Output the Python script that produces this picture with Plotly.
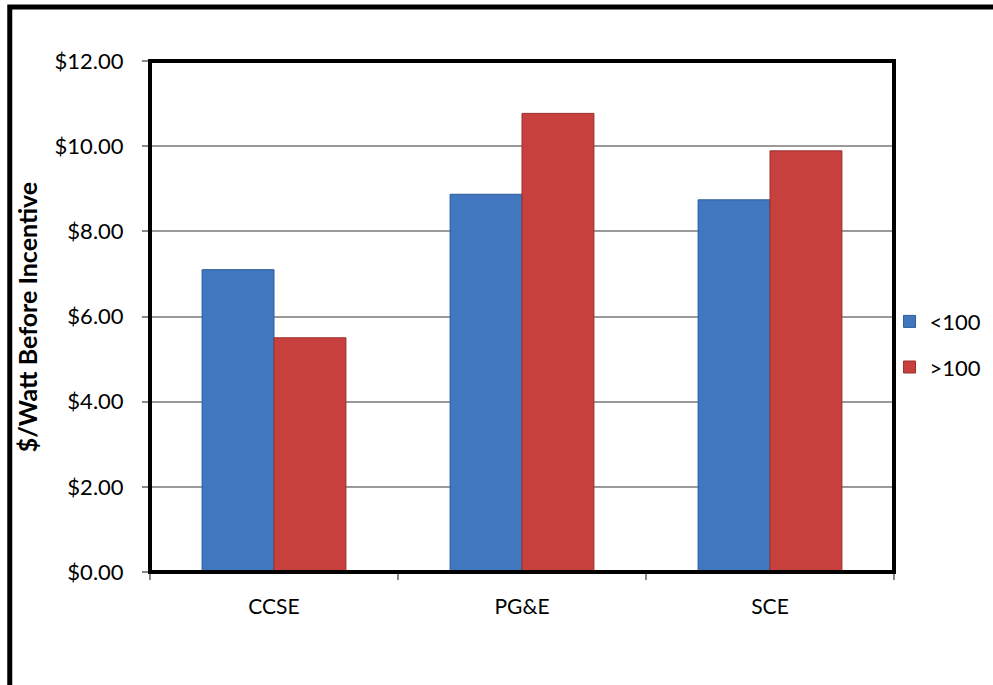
import plotly.graph_objects as go

categories = ["CCSE", "PG&E", "SCE"]
series_names = ["<100", ">100"]
values_lt100 = [7.10, 8.87, 8.74]
values_gt100 = [5.50, 10.77, 9.89]
ytick_vals = [0, 2, 4, 6, 8, 10, 12]
ytick_text = ["$0.00", "$2.00", "$4.00", "$6.00", "$8.00", "$10.00", "$12.00"]
y_title = "$/Watt Before Incentive"

FONT = "Lato, Open Sans, sans-serif"

fig = go.Figure()
fig.add_trace(go.Bar(x=categories, y=values_lt100, name=series_names[0], legendgroup="a",
                     marker=dict(color="#4077BF", line=dict(color="#2E5C9A", width=1))))
fig.add_trace(go.Bar(x=categories, y=values_gt100, name=series_names[1], legendgroup="b",
                     marker=dict(color="#C8403D", line=dict(color="#9A2E2C", width=1))))

fig.update_layout(
    width=993, height=685,
    margin=dict(l=150, r=99, t=61, b=113, autoexpand=False),
    paper_bgcolor="white", plot_bgcolor="white",
    barmode="group", bargap=0.42, bargroupgap=0,
    font=dict(family=FONT, color="black", size=21),
    legend=dict(x=0.994, y=0.445, xanchor="left", yanchor="middle",
                font=dict(size=22, family=FONT), tracegroupgap=14,
                traceorder="grouped",
                itemwidth=30, bgcolor="rgba(0,0,0,0)"),
    xaxis=dict(showgrid=False, ticks="outside", tickson="boundaries",
               ticklen=7, tickcolor="#888", tickwidth=1.5,
               tickfont=dict(size=21, family=FONT), ticklabelstandoff=20,
               showline=False),
    yaxis=dict(range=[0, 12], tickvals=ytick_vals, ticktext=ytick_text,
               showgrid=True, gridcolor="#9a9a9a", gridwidth=2,
               ticks="outside", ticklen=7, tickcolor="#888", tickwidth=1.5,
               tickfont=dict(size=22, family=FONT), ticklabelstandoff=14,
               zeroline=False),
    annotations=[
        dict(text="<b>" + y_title + "</b>", xref="paper", yref="paper",
             x=-0.1655, y=0.5, textangle=-90, showarrow=False,
             xanchor="center", yanchor="middle",
             font=dict(size=25, family=FONT, color="black")),
    ],
    shapes=[
        dict(type="rect", xref="paper", yref="paper", x0=0, x1=1, y0=0, y1=1,
             line=dict(color="black", width=4), layer="above"),
        dict(type="rect", xref="paper", yref="paper", x0=-0.1885, x1=1.3,
             y0=-0.4, y1=1.1056, line=dict(color="black", width=5)),
    ],
)

fig.write_html("out.html")
